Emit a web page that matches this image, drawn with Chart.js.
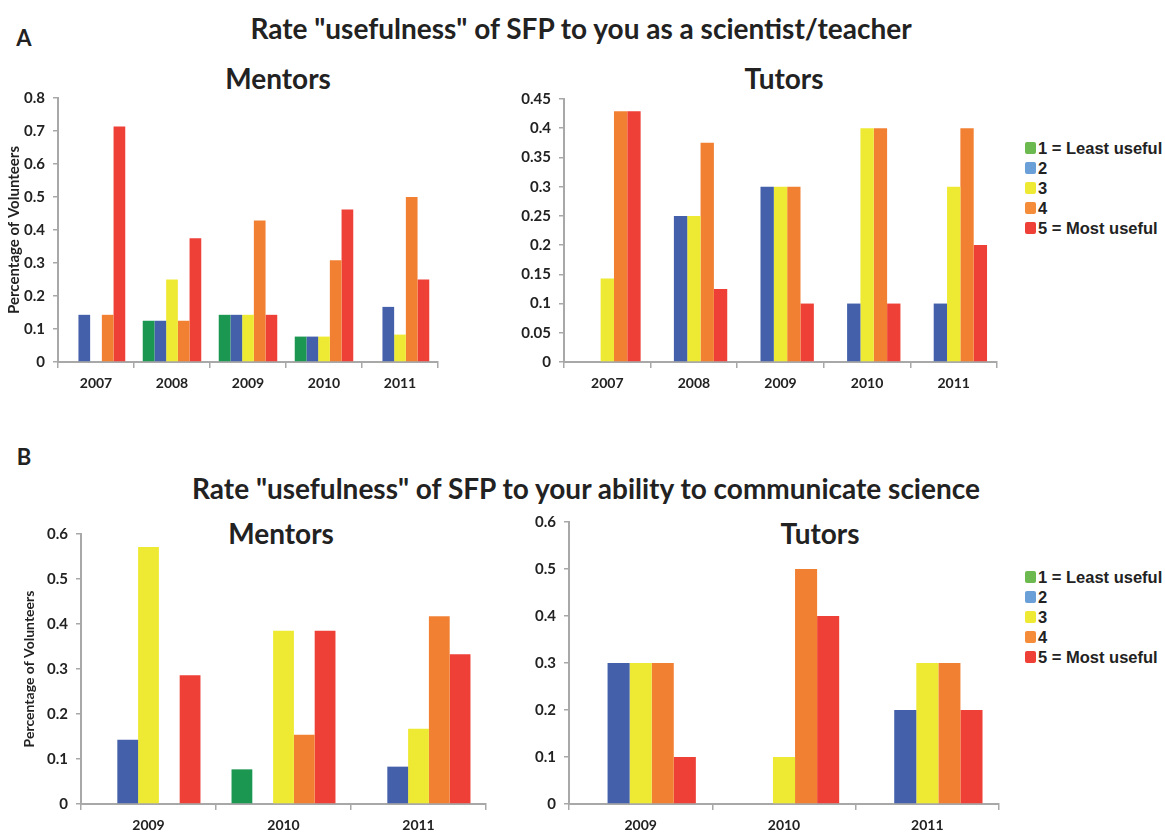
<!DOCTYPE html>
<html>
<head>
<meta charset="utf-8">
<title>SFP usefulness</title>
<script src="https://cdn.jsdelivr.net/npm/chart.js@4.4.1/dist/chart.umd.min.js"></script>
<style>
  body { margin: 0; width: 1165px; height: 833px; overflow: hidden; background: #fff; position: relative; font-family: Lato, "Open Sans", sans-serif; color: #222; }
  canvas { position: absolute; }
  .txt { position: absolute; font-weight: bold; white-space: nowrap; transform: translate(-50%, -50%); }
  .panel { position: absolute; font-family: "Liberation Sans", Arial, sans-serif; font-weight: bold; font-size: 16.5px; color: #222; }
  .panel div { height: 20px; line-height: 20px; display: flex; align-items: center; }
  .panel span { display: inline-block; width: 11px; height: 12px; border-radius: 2px; margin-right: 2px; }
</style>
</head>
<body>

<div class="txt" style="left:24px; top:37px; font-size:22px;">A</div>
<div class="txt" style="left:581px; top:28px; font-size:28px;">Rate "usefulness" of SFP to you as a scientist/teacher</div>
<div class="txt" style="left:278px; top:78px; font-size:28px;">Mentors</div>
<div class="txt" style="left:784px; top:78px; font-size:28px;">Tutors</div>

<div class="txt" style="left:24px; top:456px; font-size:22px;">B</div>
<div class="txt" style="left:586px; top:488px; font-size:28px;">Rate "usefulness" of SFP to your ability to communicate science</div>
<div class="txt" style="left:281px; top:533px; font-size:28px;">Mentors</div>
<div class="txt" style="left:820px; top:533px; font-size:28px;">Tutors</div>

<canvas id="mentors-a" width="442" height="321" style="left:0px; top:81px;"></canvas>
<canvas id="tutors-a" width="501" height="320" style="left:500px; top:82px;"></canvas>
<canvas id="mentors-b" width="490" height="319" style="left:0px; top:517px;"></canvas>
<canvas id="tutors-b" width="503" height="331" style="left:500px; top:505px;"></canvas>

<div class="panel" id="legend-a" style="left:1025px; top:138px;"></div>
<div class="panel" id="legend-b" style="left:1025px; top:567px;"></div>

<script>
'use strict';

// DATA

let yearsA = ['2007', '2008', '2009', '2010', '2011'];
let yearsB = ['2009', '2010', '2011'];

let seriesNames = ['1 = Least useful', '2', '3', '4', '5 = Most useful'];

// mentors, part A (one array per rating)
let mentorsA1 = [0, 0.125, 0.143, 0.077, 0];
let mentorsA2 = [0.143, 0.125, 0.143, 0.077, 0.167];
let mentorsA3 = [0, 0.25, 0.143, 0.077, 0.083];
let mentorsA4 = [0.143, 0.125, 0.429, 0.308, 0.5];
let mentorsA5 = [0.714, 0.375, 0.143, 0.462, 0.25];

// tutors, part A
let tutorsA1 = [0, 0, 0, 0, 0];
let tutorsA2 = [0, 0.25, 0.3, 0.1, 0.1];
let tutorsA3 = [0.143, 0.25, 0.3, 0.4, 0.3];
let tutorsA4 = [0.429, 0.375, 0.3, 0.4, 0.4];
let tutorsA5 = [0.429, 0.125, 0.1, 0.1, 0.2];

// mentors, part B
let mentorsB1 = [0, 0.077, 0];
let mentorsB2 = [0.143, 0, 0.083];
let mentorsB3 = [0.571, 0.385, 0.167];
let mentorsB4 = [0, 0.154, 0.417];
let mentorsB5 = [0.286, 0.385, 0.333];

// tutors, part B
let tutorsB1 = [0, 0, 0];
let tutorsB2 = [0.3, 0, 0.2];
let tutorsB3 = [0.3, 0.1, 0.3];
let tutorsB4 = [0.3, 0.5, 0.3];
let tutorsB5 = [0.1, 0.4, 0.2];

// tick labels
let ticksMentorsA = [0, 0.1, 0.2, 0.3, 0.4, 0.5, 0.6, 0.7, 0.8];
let ticksTutorsA = [0, 0.05, 0.1, 0.15, 0.2, 0.25, 0.3, 0.35, 0.4, 0.45];
let ticksB = [0, 0.1, 0.2, 0.3, 0.4, 0.5, 0.6];

// COLOURS

let barColors = ['#1b9752', '#4460aa', '#eeea33', '#f28033', '#ee4037'];
let legendColors = ['#6cb94f', '#6b9fd7', '#eeea33', '#f58c3a', '#ee4037'];
let axisGray = '#a8a8a8';

// CHART BUILDER

function makeChart(id, years, series, ticks, yWidth, xHeight, yTitle) {
  let datasets = [];
  for (let i = 0; i < series.length; i++) {
    datasets.push({
      label: seriesNames[i],
      data: series[i],
      backgroundColor: barColors[i],
      borderWidth: 0,
      categoryPercentage: 0.77,
      barPercentage: 1.0
    });
  }

  let chartObject = {
    type: 'bar',
    data: { labels: years, datasets: datasets },
    options: {
      responsive: false,
      animation: false,
      layout: { padding: { top: 10, right: 4, left: 0, bottom: 0 } },
      plugins: {
        legend: { display: false },
        tooltip: { enabled: false }
      },
      scales: {
        x: {
          afterFit: function (scale) { scale.height = xHeight; },
          border: { color: axisGray, width: 2 },
          grid: { offset: true, drawOnChartArea: false, tickLength: 6, color: axisGray, lineWidth: 1.5 },
          ticks: { padding: 7, color: '#222', font: { family: 'Lato', weight: 'bold', size: 14 } }
        },
        y: {
          min: 0,
          max: ticks[ticks.length - 1],
          afterBuildTicks: function (scale) {
            scale.ticks = ticks.map(function (v) { return { value: v }; });
          },
          afterFit: function (scale) { scale.width = yWidth; },
          border: { color: axisGray, width: 2 },
          grid: { drawOnChartArea: false, tickLength: 5, color: axisGray, lineWidth: 1.5 },
          ticks: {
            padding: 8,
            color: '#222',
            font: { family: 'Lato', weight: 'bold', size: 15 },
            callback: function (value) { return String(value); }
          },
          title: yTitle
        }
      }
    }
  };

  return new Chart(document.getElementById(id), chartObject);
}

function renderLegend(id) {
  let box = document.getElementById(id);
  for (let i = 0; i < seriesNames.length; i++) {
    let row = document.createElement('div');
    let swatch = document.createElement('span');
    swatch.style.background = legendColors[i];
    row.appendChild(swatch);
    row.appendChild(document.createTextNode(seriesNames[i]));
    box.appendChild(row);
  }
}

// RENDER

let noTitle = { display: false };

makeChart('mentors-a', yearsA, [mentorsA1, mentorsA2, mentorsA3, mentorsA4, mentorsA5], ticksMentorsA, 58, 40, {
  display: true,
  text: 'Percentage of Volunteers',
  color: '#222',
  font: { family: 'Lato', weight: 'bold', size: 15 },
  padding: { top: 5, bottom: 0 }
});

makeChart('tutors-a', yearsA, [tutorsA1, tutorsA2, tutorsA3, tutorsA4, tutorsA5], ticksTutorsA, 64, 40, noTitle);

makeChart('mentors-b', yearsB, [mentorsB1, mentorsB2, mentorsB3, mentorsB4, mentorsB5], ticksB, 81, 32, {
  display: true,
  text: 'Percentage of Volunteers',
  color: '#222',
  font: { family: 'Lato', weight: 'bold', size: 14 },
  padding: { top: 21, bottom: 0 }
});

makeChart('tutors-b', yearsB, [tutorsB1, tutorsB2, tutorsB3, tutorsB4, tutorsB5], ticksB, 69, 32, noTitle);

renderLegend('legend-a');
renderLegend('legend-b');
</script>
</body>
</html>
